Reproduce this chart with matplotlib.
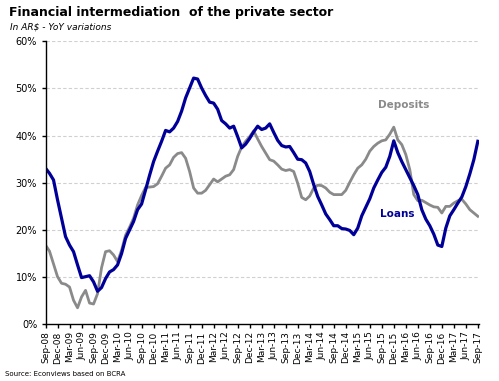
import numpy as np
import matplotlib
matplotlib.use("Agg")
import matplotlib.pyplot as plt
from matplotlib.ticker import FuncFormatter

# monthly YoY variation (%), Sep-08 .. Sep-17
loans = [33.1, 32.0, 30.6, 26.4, 22.5, 18.6, 16.8, 15.4, 12.6, 9.9,
         10.1, 10.3, 9.0, 7.0, 7.8, 9.7, 11.1, 11.6, 12.6, 15.0,
         18.2, 20.0, 21.8, 24.3, 25.5, 28.5, 31.6, 34.5, 36.7, 38.8,
         41.1, 40.8, 41.6, 43.0, 45.2, 48.0, 50.1, 52.2, 52.0, 50.1,
         48.5, 47.1, 46.9, 45.6, 43.2, 42.5, 41.6, 42.0, 39.8, 37.4,
         38.2, 39.4, 40.8, 42.0, 41.3, 41.6, 42.5, 40.7, 39.0, 37.9,
         37.6, 37.7, 36.4, 35.0, 34.9, 34.2, 32.4, 29.6, 27.1, 25.3,
         23.4, 22.2, 20.9, 20.9, 20.3, 20.2, 19.9, 19.0, 20.4, 23.0,
         24.8, 26.6, 28.9, 30.6, 32.2, 33.3, 35.6, 38.9, 36.4, 34.5,
         32.8, 31.1, 29.4, 27.5, 24.3, 22.3, 20.9, 19.1, 16.8, 16.5,
         20.4, 23.0, 24.3, 25.7, 27.0, 29.2, 31.9, 34.9, 38.8]

deposits = [16.8, 15.5, 12.8, 10.1, 8.7, 8.5, 7.9, 5.1, 3.5, 5.8,
            7.2, 4.5, 4.3, 6.5, 12.0, 15.4, 15.6, 14.7, 13.3, 15.7,
            18.9, 20.6, 22.5, 25.3, 27.3, 29.0, 29.1, 29.2, 29.8, 31.4,
            33.1, 33.8, 35.4, 36.2, 36.4, 35.2, 32.4, 28.9, 27.8, 27.8,
            28.4, 29.6, 30.8, 30.2, 30.8, 31.4, 31.7, 32.8, 35.6, 37.6,
            38.8, 39.8, 41.0, 39.3, 37.7, 36.3, 34.9, 34.6, 33.8, 32.9,
            32.6, 32.8, 32.4, 29.9, 26.9, 26.4, 27.2, 28.9, 29.5, 29.4,
            28.9, 28.0, 27.5, 27.5, 27.5, 28.4, 30.1, 31.7, 33.1, 33.8,
            35.0, 36.7, 37.7, 38.4, 38.9, 39.1, 40.3, 41.8, 39.1, 38.1,
            36.0, 32.8, 27.5, 26.2, 26.3, 25.8, 25.3, 24.9, 24.8, 23.6,
            25.0, 25.0, 25.7, 26.2, 26.5, 25.5, 24.3, 23.6, 22.9]

tick_labels = ["Sep-08", "Dec-08", "Mar-09", "Jun-09", "Sep-09", "Dec-09",
               "Mar-10", "Jun-10", "Sep-10", "Dec-10", "Mar-11", "Jun-11",
               "Sep-11", "Dec-11", "Mar-12", "Jun-12", "Sep-12", "Dec-12",
               "Mar-13", "Jun-13", "Sep-13", "Dec-13", "Mar-14", "Jun-14",
               "Sep-14", "Dec-14", "Mar-15", "Jun-15", "Sep-15", "Dec-15",
               "Mar-16", "Jun-16", "Sep-16", "Dec-16", "Mar-17", "Jun-17",
               "Sep-17"]

LOANS_COLOR = "#000099"
DEP_COLOR = "#8a8a8a"

fig = plt.figure(figsize=(4.99, 3.81), dpi=100)
ax = fig.add_axes([0.0912, 0.1488, 0.868, 0.7428])

months = np.arange(len(loans))
ax.plot(months, deposits, color=DEP_COLOR, lw=2.0, solid_joinstyle="round")
ax.plot(months, loans, color=LOANS_COLOR, lw=2.3, solid_joinstyle="round")

ax.set_xlim(0, len(loans) - 0.8)
ax.set_ylim(0, 60)
ax.set_yticks(np.arange(0, 61, 10))
ax.yaxis.set_major_formatter(FuncFormatter(lambda v, p: f"{v:.0f}%"))
ax.set_xticks(np.arange(0, len(loans), 3))
ax.set_xticklabels(tick_labels, rotation=90)

for y in range(10, 61, 10):
    ax.axhline(y, color="#d0d0d0", lw=0.8, ls=(0, (3, 2)), zorder=0)

for s in ["top", "right"]:
    ax.spines[s].set_visible(False)
ax.spines["left"].set_linewidth(1.0)
ax.spines["bottom"].set_linewidth(1.0)
ax.tick_params(axis="both", length=3, width=1.0, colors="black", pad=2)
ax.tick_params(axis="x", labelsize=6.5)
ax.tick_params(axis="y", labelsize=7, pad=3)

ax.text(0.826, 0.775, "Deposits", transform=ax.transAxes, color=DEP_COLOR,
        fontsize=7.5, fontweight="bold", ha="center", va="center")
ax.text(0.812, 0.39, "Loans", transform=ax.transAxes, color=LOANS_COLOR,
        fontsize=7.5, fontweight="bold", ha="center", va="center")

fig.text(0.018, 0.968, "Financial intermediation  of the private sector",
         fontsize=9, fontweight="bold", ha="left", va="center")
fig.text(0.02, 0.93, "In AR$ - YoY variations", fontsize=6.5, style="italic",
         ha="left", va="center")
fig.text(0.01, 0.018, "Source: Econviews based on BCRA", fontsize=5,
         ha="left", va="center")

fig.savefig("out.png", dpi=100)
